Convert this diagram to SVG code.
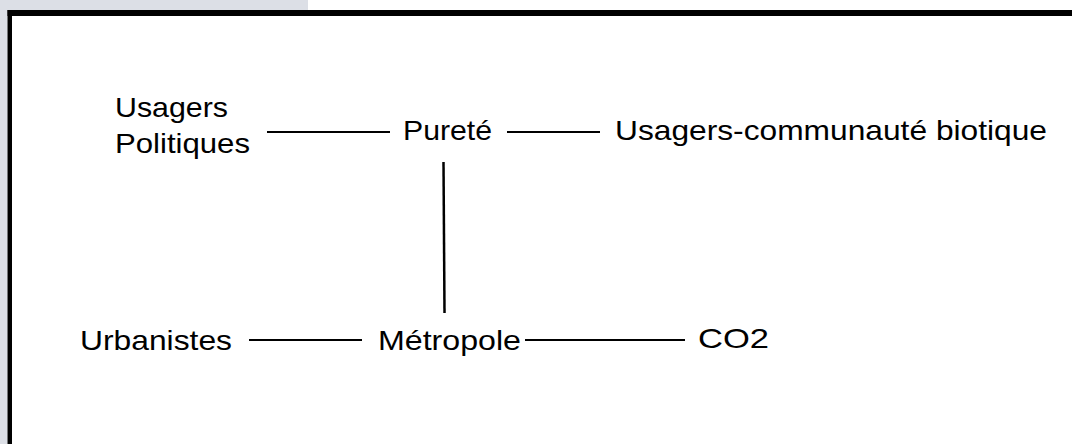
<svg xmlns="http://www.w3.org/2000/svg" width="1072" height="444" viewBox="0 0 1072 444">
<style>
.t{font-family:"Liberation Sans",Arial,sans-serif;font-size:28px;fill:#000}
.c{stroke:#000;stroke-width:2;fill:none}
</style>
<rect x="0" y="0" width="1072" height="444" fill="#fff"/>
<rect x="0" y="0" width="308" height="10" fill="#dcdfe6"/>
<rect x="0" y="0" width="7.5" height="444" fill="#dcdfe6"/>
<rect x="7.5" y="10" width="1064.5" height="6" fill="#000"/>
<rect x="7.5" y="10" width="4.5" height="434" fill="#000"/>
<g id="connectors">
<line class="c" x1="267" y1="132" x2="390" y2="132"/>
<line class="c" x1="507" y1="132" x2="600" y2="132"/>
<line class="c" x1="443.5" y1="162" x2="444.5" y2="313" style="stroke-width:2.5"/>
<line class="c" x1="249" y1="340" x2="362" y2="340"/>
<line class="c" x1="525" y1="340" x2="685" y2="340"/>
</g>
<g id="usagers-politiques">
<text class="t" x="115" y="117" textLength="113" lengthAdjust="spacingAndGlyphs">Usagers</text>
<text class="t" x="115" y="153" textLength="135" lengthAdjust="spacingAndGlyphs">Politiques</text>
</g>
<g id="purete">
<text class="t" x="403" y="140" textLength="89" lengthAdjust="spacingAndGlyphs">Pureté</text>
</g>
<g id="usagers-communaute">
<text class="t" x="615" y="140" textLength="432" lengthAdjust="spacingAndGlyphs">Usagers-communauté biotique</text>
</g>
<g id="urbanistes">
<text class="t" x="80" y="350" textLength="152" lengthAdjust="spacingAndGlyphs">Urbanistes</text>
</g>
<g id="metropole">
<text class="t" x="378" y="350" textLength="143" lengthAdjust="spacingAndGlyphs">Métropole</text>
</g>
<g id="co2">
<text class="t" x="698" y="348" textLength="71" lengthAdjust="spacingAndGlyphs">CO2</text>
</g>
</svg>
